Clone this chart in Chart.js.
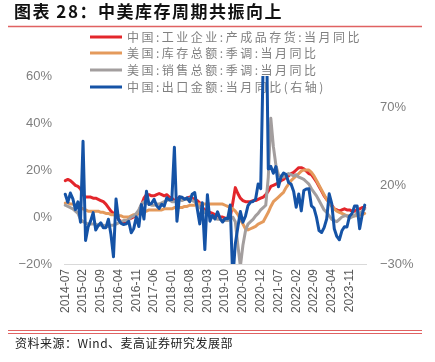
<!DOCTYPE html>
<html>
<head>
<meta charset="utf-8">
<script src="https://cdn.jsdelivr.net/npm/chart.js"></script>
<style>
  html, body { margin: 0; padding: 0; background: #fff; }
  #wrap { position: relative; width: 435px; height: 362px; }
</style>
</head>
<body>
<div id="wrap"><canvas id="inventoryChart" width="435" height="362"></canvas></div>
<script>
// months 2014-07 .. 2024-05
const months = [];
for (let y = 2014; y <= 2024; y++) {
    for (let m = 1; m <= 12; m++) {
        if ((y === 2014 && m < 7) || (y === 2024 && m > 5)) continue;
        months.push(y + '-' + String(m).padStart(2, '0'));
    }
}

const seriesNames = [
    '中国:工业企业:产成品存货:当月同比',
    '美国:库存总额:季调:当月同比',
    '美国:销售总额:季调:当月同比',
    '中国:出口金额:当月同比(右轴)'
];

// 中国 产成品存货 (left axis, %)
const cnInventory = [
    15.5, 16.0, 15.5, 14.5, 13.5, 13.0,
    12.0, 9.5, 8.5, 8.5, 8.5, 8.0, 8.0, 7.5, 7.0, 6.5, 5.5, 4.0,
    2.5, 1.5, 0.5, -1.0, -2.0, -2.5, -2.0, -1.0, -0.5, 0.0, 1.0, 2.5,
    5.0, 8.0, 9.5, 9.5, 9.0, 9.0, 9.5, 10.0, 9.5, 9.0, 9.5, 8.5,
    8.0, 7.0, 7.5, 8.5, 8.0, 7.5, 8.0, 8.5, 8.0, 7.5, 7.0, 6.0,
    4.0, 3.0, 2.5, 2.0, 1.5, 1.0, 0.5, 0.0, 0.0, -0.5, -0.5, 0.0,
    6.0, 12.5, 10.0, 8.0, 7.0, 6.5, 6.5, 6.5, 7.0, 7.0, 7.5, 8.0,
    8.5, 9.5, 11.0, 13.0, 13.5, 14.0, 14.5, 15.5, 16.0, 17.0, 17.5, 18.5,
    19.0, 20.0, 21.0, 21.0, 20.5, 19.5, 18.5, 18.0, 16.5, 15.0, 13.0, 11.0,
    9.0, 7.5, 6.5, 5.0, 3.5, 3.0, 2.5, 3.0, 3.5, 3.0, 3.0, 2.5,
    2.5, 3.0, 3.5, 4.0, 4.0
];

// 美国 库存总额 (left axis, %)
const usInventory = [
    6.0, 6.0, 5.5, 5.5, 5.0, 4.5,
    4.0, 3.5, 3.0, 2.5, 2.5, 2.5, 2.5, 2.5, 2.0, 2.0, 1.5, 1.5,
    1.0, 1.0, 0.5, 0.5, 0.5, 0.0, 0.0, 0.0, 0.5, 1.0, 1.0, 1.5,
    2.0, 2.5, 2.5, 3.0, 3.0, 3.0, 3.0, 3.0, 3.0, 3.5, 3.5, 3.5,
    3.5, 4.0, 4.0, 4.0, 4.0, 4.5, 4.5, 5.0, 5.0, 5.0, 5.5, 5.5,
    5.5, 5.5, 5.5, 5.5, 5.5, 5.5, 5.5, 5.5, 5.5, 5.0, 4.5, 4.0,
    3.5, 2.5, 1.0, -1.0, -3.0, -5.0, -5.5, -5.0, -4.5, -4.0, -3.0, -2.5,
    -2.0, 0.0, 2.0, 4.5, 6.5, 7.5, 8.5, 9.5, 10.5, 12.5, 14.0, 15.5,
    16.5, 17.5, 18.5, 19.5, 20.0, 20.0, 20.0, 19.0, 17.5, 15.5, 13.5, 11.5,
    9.5, 7.5, 6.0, 4.5, 3.5, 2.5, 2.0, 1.5, 1.0, 0.5, 0.5, 0.5,
    0.5, 0.5, 1.0, 1.0, 1.5
];

// 美国 销售总额 (left axis, %)
const usSales = [
    5.0, 4.5, 4.0, 3.5, 2.5, 1.5,
    -1.0, -2.0, -2.5, -3.0, -3.0, -3.0, -3.0, -3.5, -3.5, -3.5, -4.0, -4.0,
    -3.5, -3.5, -3.0, -2.5, -2.0, -1.5, -1.5, -1.0, 0.0, 0.5, 1.5, 3.0,
    5.5, 6.5, 6.0, 5.5, 5.0, 5.0, 5.5, 5.5, 6.0, 6.5, 7.0, 7.5,
    6.5, 6.5, 7.0, 7.5, 7.0, 7.5, 7.5, 8.0, 7.0, 6.5, 5.0, 4.0,
    3.0, 2.0, 1.0, 0.5, 0.0, -0.5, -1.0, -1.0, -1.5, -1.5, -1.5, -1.0,
    0.0, -2.0, -12.0, -21.0, -12.0, -6.0, -3.0, -2.0, -1.0, 0.5, 1.5, 3.0,
    4.0, 5.0, 17.0, 42.0, 30.0, 22.0, 18.0, 17.0, 17.0, 18.0, 18.5, 18.0,
    17.5, 18.0, 17.0, 16.5, 16.0, 15.0, 14.0, 12.0, 10.5, 9.0, 7.0, 5.0,
    3.0, 2.0, 0.5, -1.0, -1.5, -2.0, -1.0, 0.0, 0.5, 0.5, -0.5, 0.0,
    0.5, 2.0, 1.5, 2.5, 3.5
];

// 中国 出口金额 (right axis, %)
const cnExports = [
    14.5, 9.4, 15.3, 11.6, 4.7, 9.7,
    -3.3, 48.3, -15.0, -6.4, -2.5, 2.8, -8.3, -5.5, -3.7, -6.9, -6.8, -1.4,
    -11.2, -25.4, 11.5, -1.8, -4.1, -4.8, -4.4, -2.8, -10.0, -7.3, 0.1, -6.1,
    7.9, -1.3, 16.4, 8.0, 8.7, 11.3, 7.2, 5.5, 8.1, 6.9, 12.3, 10.9,
    11.1, 44.5, -2.7, 12.9, 12.6, 11.3, 12.2, 9.8, 14.5, 15.6, 5.4, -4.4,
    9.1, -20.8, 14.2, -2.7, 1.1, -1.3, 3.3, -1.0, -3.2, -0.9, -1.1, 7.6,
    -40.0, -17.2, -6.6, 3.5, -3.3, 0.5, 7.2, 9.5, 9.9, 11.4, 21.1, 18.1,
    100.0, 154.9, 30.6, 32.3, 27.9, 32.2, 19.3, 25.6, 28.1, 27.1, 22.0, 20.9,
    16.3, 6.2, 14.7, 3.9, 16.9, 17.9, 18.0, 7.1, 5.7, -0.3, -8.7, -9.9,
    -6.8, -1.3, 14.8, 8.5, -7.5, -12.4, -14.5, -8.8, -6.2, -6.4, 0.5, 2.3,
    7.1, 7.1, -7.5, 1.5, 7.6
];

const leftTicks = [-20, 0, 20, 40, 60];
const rightTicks = [-30, 20, 70];
const rightMax = 90;

const colors = ['#e3262b', '#e49a5c', '#a39e9e', '#1553a6'];

const fmtPct = v => (v < 0 ? '\u2212' + Math.abs(v) : v) + '%';

// title, rules, legend and source drawn straight on the canvas
const decorations = {
    id: 'decorations',
    beforeDatasetsDraw(chart) {
        const ctx = chart.ctx;
        ctx.save();
        ctx.font = '12px "Noto Sans CJK SC", sans-serif';
        ctx.letterSpacing = '2.5px';
        ctx.textBaseline = 'middle';
        const rows = [37, 53, 70, 87];
        chart.data.datasets.forEach((ds, i) => {
            ctx.strokeStyle = ds.borderColor;
            ctx.lineWidth = 3;
            ctx.beginPath();
            ctx.moveTo(90, rows[i]);
            ctx.lineTo(122, rows[i]);
            ctx.stroke();
            ctx.fillStyle = '#808080';
            ctx.fillText(ds.label, 127, rows[i]);
        });
        ctx.restore();
    },
    afterDraw(chart) {
        const ctx = chart.ctx;
        ctx.save();
        ctx.fillStyle = '#111';
        ctx.font = 'bold 17px "Noto Sans CJK SC", sans-serif';
        ctx.letterSpacing = '1.5px';
        ctx.textBaseline = 'middle';
        ctx.fillText('图表 28：中美库存周期共振向上', 14, 12);

        ctx.strokeStyle = '#e06262';
        ctx.lineWidth = 1.5;
        ctx.beginPath();
        ctx.moveTo(8, 26.5); ctx.lineTo(422, 26.5);
        ctx.stroke();
        ctx.lineWidth = 1;
        ctx.beginPath();
        ctx.moveTo(8, 330.5); ctx.lineTo(422, 330.5);
        ctx.moveTo(8, 333.5); ctx.lineTo(422, 333.5);
        ctx.stroke();

        ctx.fillStyle = '#222';
        ctx.font = '12px "Noto Sans CJK SC", sans-serif';
        ctx.letterSpacing = '0.5px';
        ctx.fillText('资料来源：Wind、麦高证券研究发展部', 15, 343);
        ctx.restore();
    }
};

const ctx = document.getElementById('inventoryChart').getContext('2d');
new Chart(ctx, {
    type: 'line',
    data: {
        labels: months,
        datasets: [
            { label: seriesNames[0], data: cnInventory, borderColor: colors[0], yAxisID: 'y', order: 3 },
            { label: seriesNames[1], data: usInventory, borderColor: colors[1], yAxisID: 'y', order: 2 },
            { label: seriesNames[2], data: usSales, borderColor: colors[2], yAxisID: 'y', order: 1 },
            { label: seriesNames[3], data: cnExports, borderColor: colors[3], yAxisID: 'y1', order: 0 }
        ]
    },
    options: {
        responsive: false,
        animation: false,
        layout: { padding: { top: 76, left: 0, right: 0, bottom: 0 } },
        elements: {
            point: { radius: 0 },
            line: { borderWidth: 3, tension: 0, borderJoinStyle: 'round', borderCapStyle: 'round' }
        },
        plugins: { legend: { display: false }, tooltip: { enabled: false } },
        scales: {
            x: {
                offset: true,
                grid: { display: false, drawTicks: false },
                border: { display: true, color: '#d9d9d9', width: 1 },
                afterFit: s => { s.height = 98; },
                ticks: {
                    autoSkip: false,
                    minRotation: 90,
                    maxRotation: 90,
                    padding: 5,
                    color: '#595959',
                    font: { family: 'Liberation Sans', size: 12 },
                    callback: (v, i) => (i % 7 === 0 ? months[i] : null)
                }
            },
            y: {
                position: 'left',
                min: leftTicks[0],
                max: leftTicks[leftTicks.length - 1],
                grid: { display: false, drawTicks: false },
                border: { display: false },
                afterFit: s => { s.width = 64; },
                afterBuildTicks: s => { s.ticks = leftTicks.map(v => ({ value: v })); },
                ticks: {
                    padding: 12,
                    color: '#7f7f7f',
                    font: { family: 'Liberation Sans', size: 13 },
                    callback: v => fmtPct(v)
                }
            },
            y1: {
                position: 'right',
                min: rightTicks[0],
                max: rightMax,
                grid: { display: false, drawTicks: false },
                border: { display: false },
                afterFit: s => { s.width = 69; },
                afterBuildTicks: s => { s.ticks = rightTicks.map(v => ({ value: v })); },
                ticks: {
                    padding: 14,
                    color: '#7f7f7f',
                    font: { family: 'Liberation Sans', size: 13 },
                    callback: v => fmtPct(v)
                }
            }
        }
    },
    plugins: [decorations]
});
</script>
</body>
</html>
